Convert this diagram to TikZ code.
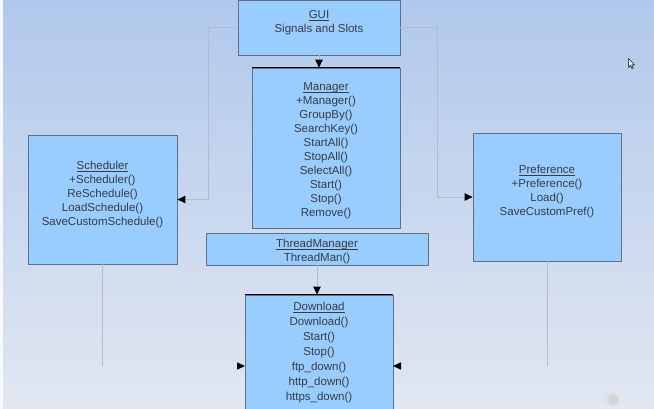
\documentclass[tikz,border=0pt]{standalone}
\usepackage{fontspec}
\setmainfont{Liberation Sans}
\usetikzlibrary{arrows.meta,calc}
\definecolor{boxfill}{HTML}{99CCFF}
\definecolor{boxline}{HTML}{5E7088}
\definecolor{txtcol}{HTML}{383C44}
\definecolor{conncol}{HTML}{B4BCC8}
\definecolor{bgtop}{RGB}{176,200,236}
\definecolor{bgmid}{RGB}{214,224,240}
\definecolor{bgbot}{RGB}{226,231,241}
\newcommand{\ttl}[1]{\underline{\smash{#1}}}
\tikzset{
  umlbox/.style={draw=boxline, fill=boxfill, line width=0.8pt, inner sep=0pt},
  txt/.style={text=txtcol, align=center, inner sep=0pt, font=\fontsize{11.5}{14}\selectfont},
  txtw/.style={text=txtcol, align=center, inner sep=0pt, font=\fontsize{11.5}{15}\selectfont},
  conn/.style={draw=conncol, line width=0.9pt},
  tip/.style={-{Triangle[black, width=7.5pt, length=8pt]}},
  topline/.style={draw=black, line width=1.4pt}
}
\begin{document}
\begin{tikzpicture}[x=1pt,y=-1pt]
\useasboundingbox (0,0) rectangle (654,409);
\clip (0,0) rectangle (654,409);
\shade[top color=bgtop, middle color=bgmid, bottom color=bgbot] (0,0) rectangle (654,409);
\fill[white!70!bgbot] (0,0) rectangle (2.5,409);

% boxes
\node[umlbox, minimum width=162pt, minimum height=55pt] (gui) at (319,27.5) {};
\node[umlbox, minimum width=148pt, minimum height=160pt] (man) at (326,148) {};
\node[umlbox, minimum width=222pt, minimum height=32pt] (tm) at (317,249) {};
\node[umlbox, minimum width=148pt, minimum height=130pt] (dl) at (319,360) {};
\node[umlbox, minimum width=149pt, minimum height=129pt] (sch) at (102.5,199.5) {};
\node[umlbox, minimum width=148pt, minimum height=128pt] (pref) at (547,197) {};
\draw[topline] (man.north west) -- (man.north east);
\draw[topline] (dl.north west) -- (dl.north east);

% texts
\node[txt] (guit) at (319,27) {\ttl{GUI}\\Signals and Slots};
\node[txt] (mant) at (326,155) {\ttl{Manager}\\+Manager()\\GroupBy()\\SearchKey()\\StartAll()\\StopAll()\\SelectAll()\\Start()\\Stop()\\Remove()};
\node[txt] (tmt) at (317,255.5) {\ttl{ThreadManager}\\ThreadMan()};
\node[txtw] (dlt) at (319,357) {\ttl{Download}\\Download()\\Start()\\Stop()\\ftp\_down()\\http\_down()\\https\_down()};
\node[txt] (scht) at (102.5,199) {\ttl{Scheduler}\\+Scheduler()\\ReSchedule()\\LoadSchedule()\\SaveCustomSchedule()};
\node[txt] (preft) at (547,196) {\ttl{Preference}\\+Preference()\\Load()\\SaveCustomPref()};

% connectors
\coordinate (gl) at (208,27.5);
\coordinate (gr) at (437,27.5);
\draw[conn, tip] (gui.west) -- (gl) |- (sch.east);
\draw[conn, tip] (gui.east) -- (gr) |- (pref.west);
\draw[conn, tip] (gui.south) -- (gui.south |- man.north);
\draw[conn, tip] (tm.south) -- (tm.south |- dl.north);

\coordinate (dlL) at (245,366);
\coordinate (dlR) at (393,366);
\coordinate (schB) at (102.5,366);
\coordinate (prefB) at (547,366);
\draw[conn] (sch.south) -- (schB);
\draw[conn] (pref.south) -- (prefB);
\draw[draw=none, fill=black] (dlL) -- ++(-8,-3.7) -- ++(0,7.4) -- cycle;
\draw[draw=none, fill=black] (dlR) -- ++(8,-3.7) -- ++(0,7.4) -- cycle;

% mouse cursor
\draw[black, fill=white, line width=0.5pt] (628.5,58.5) -- (628.5,67.5) -- (630.5,65.5) -- (632,68.5) -- (633.2,68) -- (631.8,65) -- (634.5,65) -- cycle;
% grey blob bottom right
\fill[gray!40, opacity=0.6] (613,400) circle (6);
\end{tikzpicture}
\end{document}
